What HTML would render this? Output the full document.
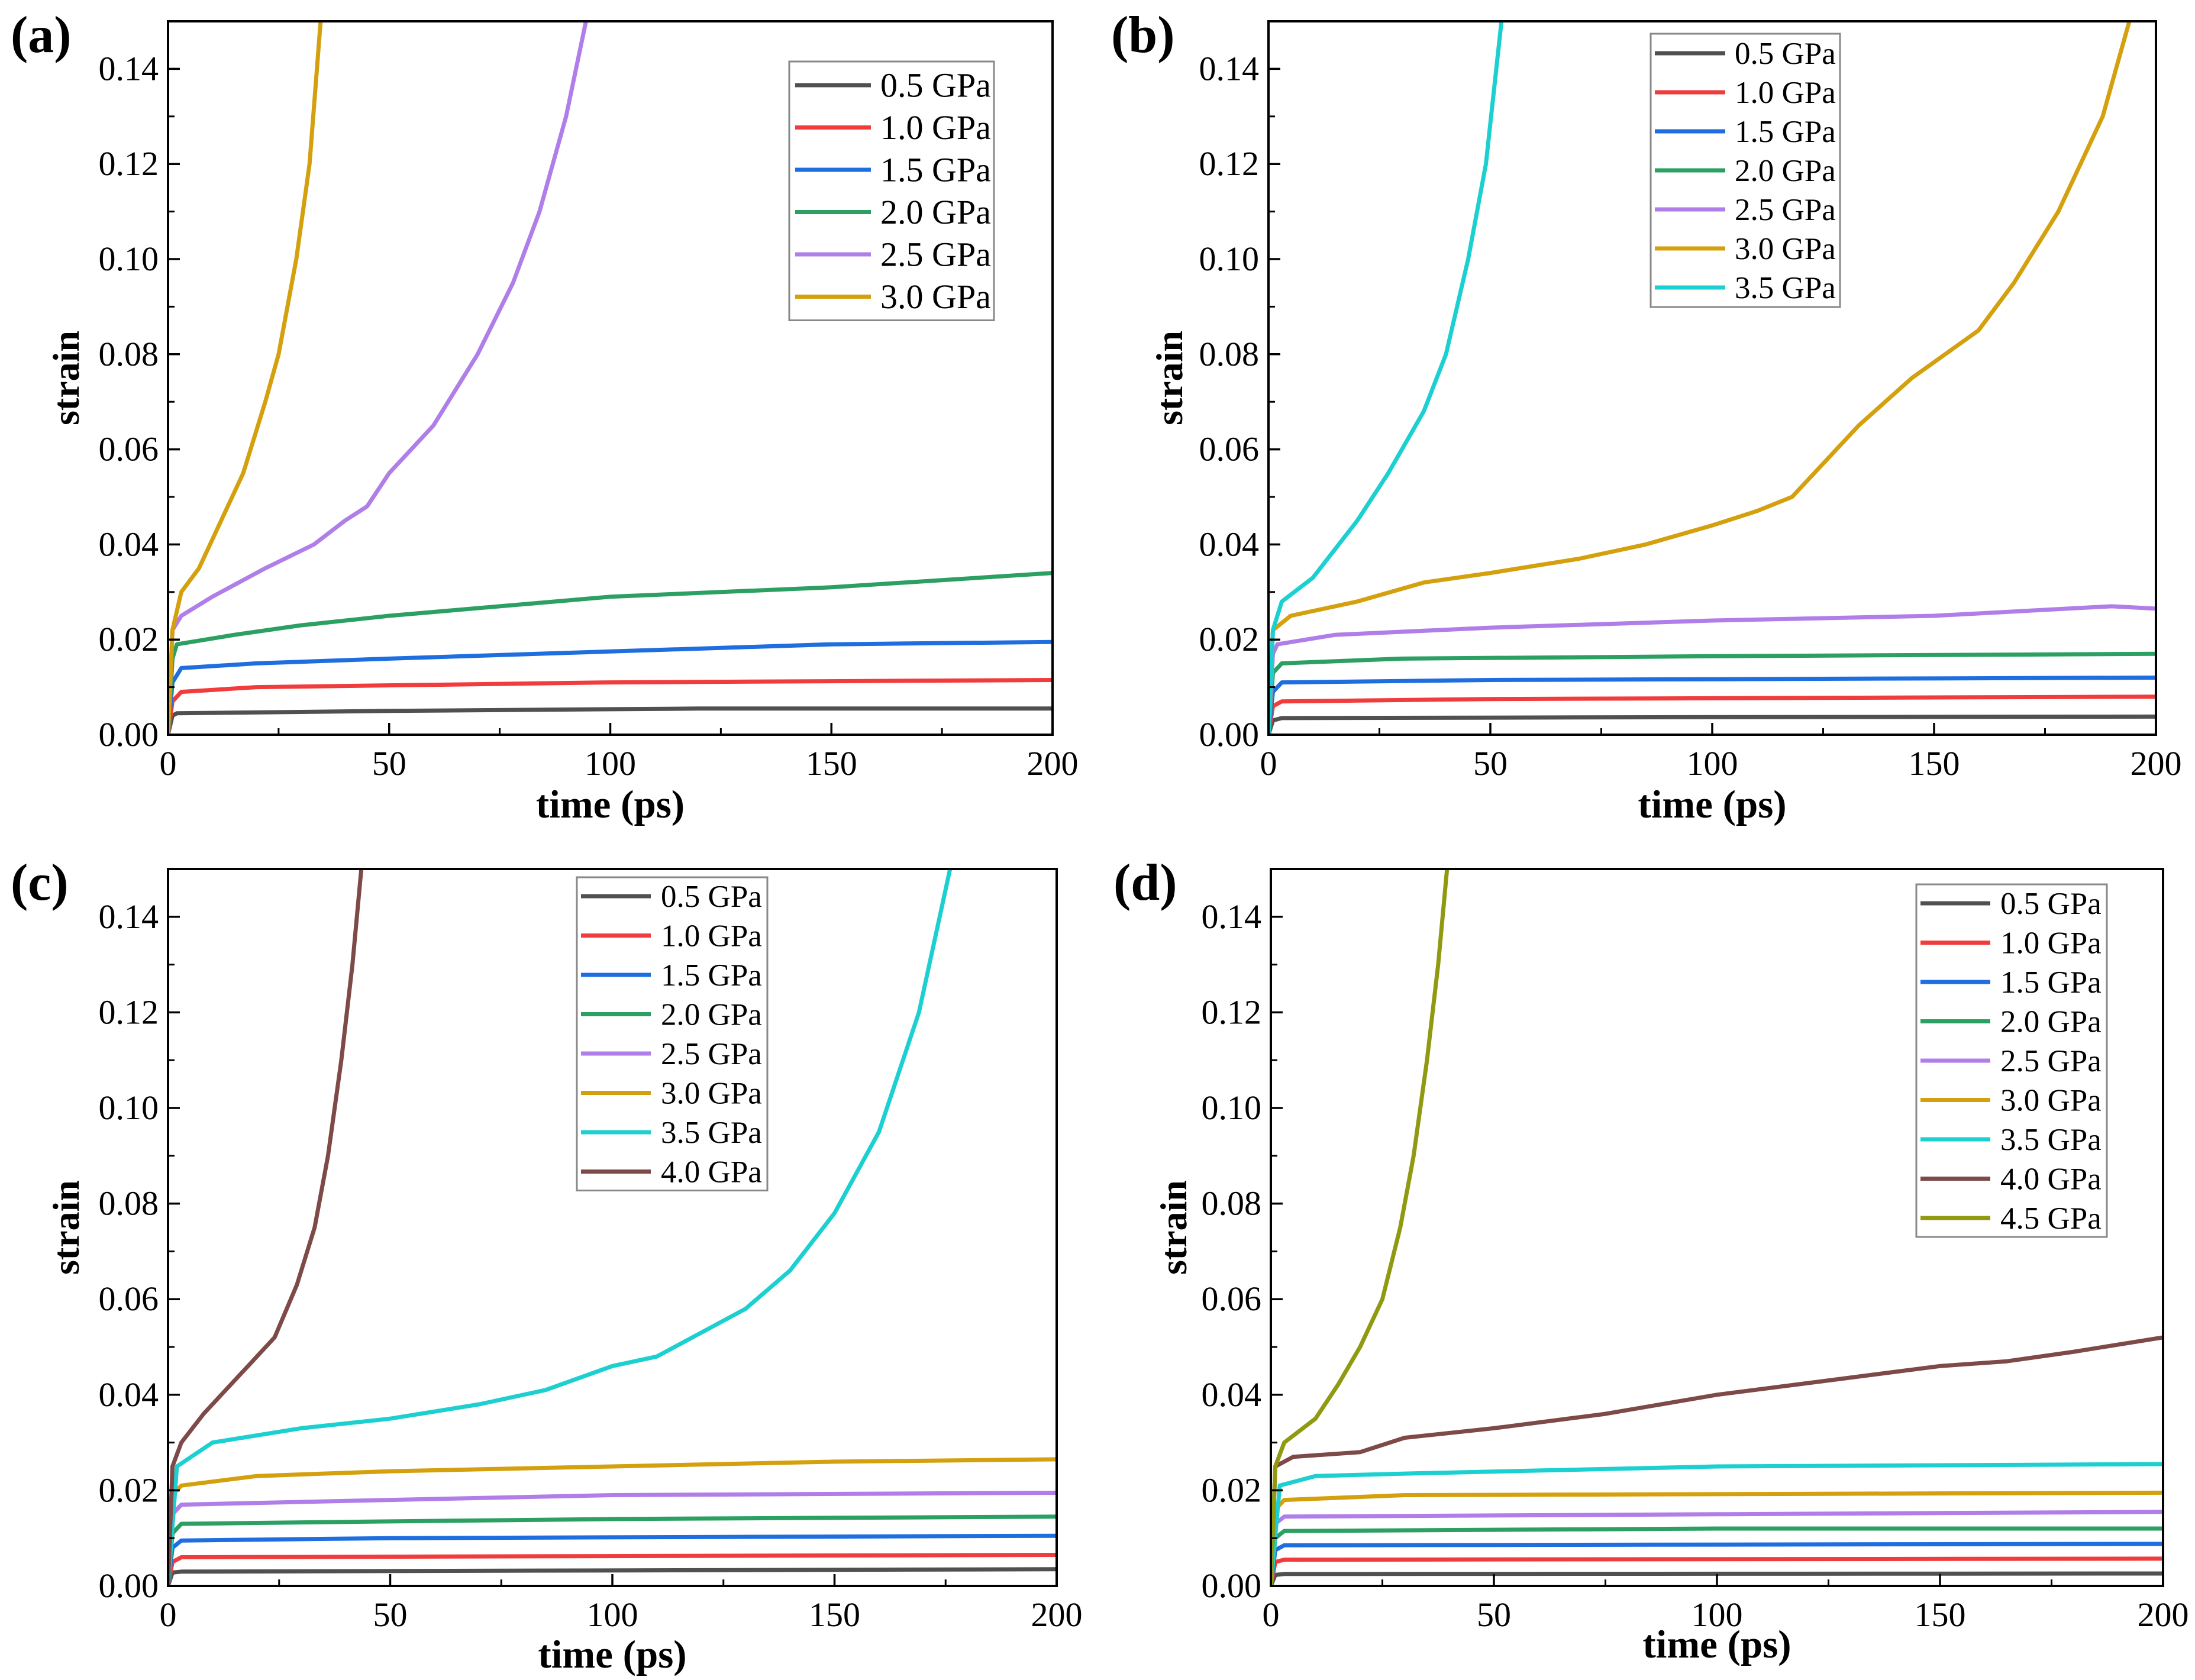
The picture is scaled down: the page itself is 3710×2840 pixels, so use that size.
<!DOCTYPE html>
<html><head><meta charset="utf-8"><style>
html,body{margin:0;padding:0;background:#fff;}
svg{display:block;font-family:"Liberation Serif",serif;}
</style></head><body>
<svg id="fig" width="3710" height="2840" viewBox="0 0 3710 2840" xmlns="http://www.w3.org/2000/svg"></svg>
<script>
const labels = ["0.5 GPa","1.0 GPa","1.5 GPa","2.0 GPa","2.5 GPa","3.0 GPa","3.5 GPa","4.0 GPa","4.5 GPa"];
const colors = ["#505050","#f03c3c","#1f6ee0","#2ca063","#b07ee8","#d4a00e","#1ccfd0","#7d4a48","#8f9a10"];
const xTicks = [0,50,100,150,200];
const yTicks = [0,0.02,0.04,0.06,0.08,0.10,0.12,0.14];
const yTickLabels = ["0.00","0.02","0.04","0.06","0.08","0.10","0.12","0.14"];

const seriesA = [
 [[0,0],[1,0.004],[2,0.0045],[50,0.005],[120,0.0055],[200,0.0055]],
 [[0,0],[1,0.007],[3,0.009],[20,0.010],[100,0.011],[200,0.0115]],
 [[0,0],[1,0.011],[3,0.014],[20,0.015],[50,0.016],[100,0.0175],[150,0.019],[200,0.0195]],
 [[0,0],[1,0.016],[2,0.019],[15,0.021],[30,0.023],[50,0.025],[75,0.027],[100,0.029],[125,0.030],[150,0.031],[200,0.034]],
 [[0,0],[1,0.022],[3,0.025],[10,0.029],[22,0.035],[33,0.040],[40,0.045],[45,0.048],[50,0.055],[60,0.065],[70,0.080],[78,0.095],[84,0.110],[90,0.130],[94.5,0.150]],
 [[0,0],[1,0.022],[3,0.030],[7,0.035],[12,0.045],[17,0.055],[22,0.070],[25,0.080],[29,0.100],[32,0.120],[34.5,0.150]]
];
const seriesB = [
 [[0,0],[1,0.003],[3,0.0035],[100,0.0037],[200,0.0038]],
 [[0,0],[1,0.006],[3,0.007],[50,0.0075],[200,0.008]],
 [[0,0],[1,0.009],[3,0.011],[50,0.0115],[200,0.012]],
 [[0,0],[1,0.013],[3,0.015],[30,0.016],[100,0.0165],[200,0.017]],
 [[0,0],[1,0.017],[2,0.019],[15,0.021],[50,0.0225],[100,0.024],[150,0.025],[190,0.027],[200,0.0265]],
 [[0,0],[1,0.022],[5,0.025],[20,0.028],[35,0.032],[50,0.034],[70,0.037],[85,0.040],[100,0.044],[110,0.047],[118,0.050],[125,0.057],[133,0.065],[145,0.075],[160,0.085],[168,0.095],[178,0.110],[188,0.130],[194,0.150]],
 [[0,0],[1,0.022],[3,0.028],[10,0.033],[20,0.045],[27,0.055],[35,0.068],[40,0.080],[45,0.100],[49,0.120],[52.5,0.150]]
];
const seriesC = [
 [[0,0],[1,0.0028],[3,0.003],[200,0.0035]],
 [[0,0],[1,0.005],[3,0.006],[200,0.0065]],
 [[0,0],[1,0.008],[3,0.0095],[50,0.010],[200,0.0105]],
 [[0,0],[1,0.011],[3,0.013],[50,0.0135],[100,0.014],[200,0.0145]],
 [[0,0],[1,0.015],[3,0.017],[50,0.018],[100,0.019],[200,0.0195]],
 [[0,0],[1,0.019],[3,0.021],[20,0.023],[50,0.024],[100,0.025],[150,0.026],[200,0.0265]],
 [[0,0],[2,0.025],[10,0.030],[30,0.033],[50,0.035],[70,0.038],[85,0.041],[100,0.046],[110,0.048],[120,0.053],[130,0.058],[140,0.066],[150,0.078],[160,0.095],[169,0.120],[176,0.150]],
 [[0,0],[1,0.025],[3,0.030],[8,0.036],[14,0.042],[19,0.047],[24,0.052],[29,0.063],[33,0.075],[36,0.090],[39,0.110],[41.5,0.130],[43.5,0.150]]
];
const seriesD = [
 [[0,0],[1,0.0023],[3,0.0025],[200,0.0026]],
 [[0,0],[1,0.005],[3,0.0055],[200,0.0057]],
 [[0,0],[1,0.0075],[3,0.0085],[200,0.0088]],
 [[0,0],[1,0.010],[3,0.0115],[100,0.012],[200,0.012]],
 [[0,0],[1,0.013],[3,0.0145],[100,0.015],[200,0.0155]],
 [[0,0],[1,0.016],[3,0.018],[30,0.019],[200,0.0195]],
 [[0,0],[2,0.021],[10,0.023],[30,0.0235],[100,0.025],[200,0.0255]],
 [[0,0],[1,0.025],[5,0.027],[20,0.028],[30,0.031],[50,0.033],[75,0.036],[100,0.040],[125,0.043],[150,0.046],[165,0.047],[180,0.049],[200,0.052]],
 [[0,0],[1,0.025],[3,0.030],[10,0.035],[15,0.042],[20,0.050],[25,0.060],[29,0.075],[32,0.090],[35,0.110],[37.5,0.130],[39.5,0.150]]
];

const NS="http://www.w3.org/2000/svg";
const svg=document.getElementById('fig');
function mk(tag,attrs,parent){const e=document.createElementNS(NS,tag);for(const k in attrs)e.setAttribute(k,attrs[k]);(parent||svg).appendChild(e);return e;}

const panels=[
 {id:'a',L:284,R:1779,T:36,B:1242,series:seriesA,leg:{x:1334,y:104,w:346,row0:144,dy:71.5,lx0:1344,lx1:1472,tx:1488,fs:58},titleX:1360,ylabX:111},
 {id:'b',L:2144,R:3644,T:36,B:1242,series:seriesB,leg:{x:2790,y:57,w:320,row0:90,dy:66,lx0:2797,lx1:2916,tx:2932,fs:53},titleX:1360,ylabX:1976},
 {id:'c',L:284,R:1786,T:1469,B:2681,series:seriesC,leg:{x:975,y:1483,w:322,row0:1515,dy:66.5,lx0:982,lx1:1100,tx:1117,fs:53},titleX:2797,ylabX:111},
 {id:'d',L:2148,R:3656,T:1469,B:2681,series:seriesD,leg:{x:3239,y:1495,w:322,row0:1527,dy:66.5,lx0:3246,lx1:3364,tx:3381,fs:53},titleX:2780,ylabX:1983}
];

panels.forEach(p=>{
 const g=mk('g',{});
 
 
 const xs=v=>p.L+(v/200)*(p.R-p.L);
 const ys=v=>p.B-(v/0.15)*(p.B-p.T);
 const cp=mk('clipPath',{id:'clip'+p.id},g);
 mk('rect',{x:p.L,y:p.T,width:p.R-p.L,height:p.B-p.T},cp);
 p.series.forEach((s,i)=>{
  const d=s.map((pt,j)=>(j?'L':'M')+xs(pt[0]).toFixed(1)+' '+ys(pt[1]).toFixed(1)).join(' ');
  const path=mk('path',{d:d,fill:'none',stroke:colors[i],'stroke-width':7,'stroke-linejoin':'round','clip-path':'url(#clip'+p.id+')'},g);
  
  
 });
 const fr=mk('rect',{x:p.L,y:p.T,width:p.R-p.L,height:p.B-p.T,fill:'none',stroke:'#000','stroke-width':4},g);
 
 
 xTicks.forEach((t,i)=>{
  mk('line',{x1:xs(t),x2:xs(t),y1:p.B,y2:p.B-20,stroke:'#000','stroke-width':3.5},g);
  if(i<xTicks.length-1){const m=xs(t+25);mk('line',{x1:m,x2:m,y1:p.B,y2:p.B-11,stroke:'#000','stroke-width':3},g);}
  const tx=mk('text',{x:xs(t),y:p.B+68,'font-size':58,'text-anchor':'middle',fill:'#000'},g);
  tx.textContent=t;
  
  
 });
 yTicks.forEach((t,i)=>{
  mk('line',{x1:p.L,x2:p.L+20,y1:ys(t),y2:ys(t),stroke:'#000','stroke-width':3.5},g);
  const m=ys(t+0.01);mk('line',{x1:p.L,x2:p.L+11,y1:m,y2:m,stroke:'#000','stroke-width':3},g);
  const tx=mk('text',{x:p.L-16,y:ys(t)+19,'font-size':58,'text-anchor':'end',fill:'#000'},g);
  tx.textContent=yTickLabels[i];
  
  
 });
 const xt=mk('text',{x:(p.L+p.R)/2,y:p.titleX+22,'font-size':67,'font-weight':'bold','text-anchor':'middle'},g);
 xt.textContent='time (ps)';
 
 
 const yc=(p.T+p.B)/2;
 const yt=mk('text',{x:p.ylabX+22,y:yc,'font-size':64,'font-weight':'bold','text-anchor':'middle',transform:'rotate(-90 '+(p.ylabX+22)+' '+yc+')'},g);
 yt.textContent='strain';
 
 
 const pl=mk('text',{x:p.L-266,y:p.T+52,'font-size':88,'font-weight':'bold'},g);
 pl.textContent='('+p.id+')';
 
 
 const n=p.series.length,lg=p.leg;
 const h=(lg.row0-lg.y)*2+(n-1)*lg.dy;
 const lgG=mk('g',{},g);
 
 
 mk('rect',{x:lg.x,y:lg.y,width:lg.w,height:h,fill:'#fff',stroke:'#888','stroke-width':3},lgG);
 for(let i=0;i<n;i++){
  const yy=lg.row0+i*lg.dy;
  const e=mk('g',{},lgG);
  
  
  mk('line',{x1:lg.lx0,x2:lg.lx1,y1:yy,y2:yy,stroke:colors[i],'stroke-width':7},e);
  const t=mk('text',{x:lg.tx,y:yy+lg.fs*0.34,'font-size':lg.fs},e);
  t.textContent=labels[i];
 }
});
</script>
</body></html>
